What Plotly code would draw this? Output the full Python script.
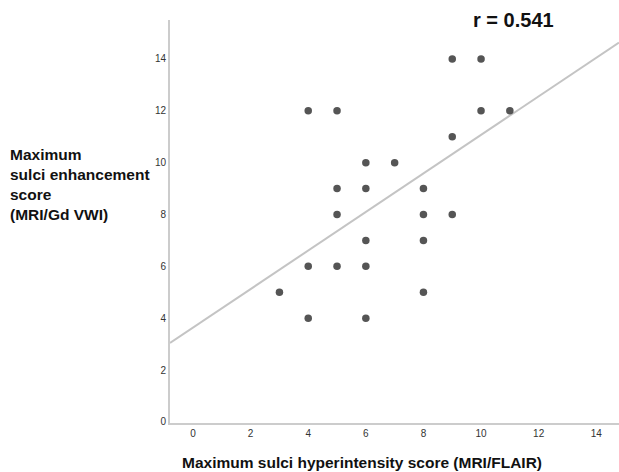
import plotly.graph_objects as go

# Data
flair_score = [9, 10, 4, 5, 10, 11, 9, 6, 7, 5, 6, 8, 5, 8, 9, 6, 8, 4, 5, 6, 3, 8, 4, 6]
vwi_score = [14, 14, 12, 12, 12, 12, 11, 10, 10, 9, 9, 9, 8, 8, 8, 7, 7, 6, 6, 6, 5, 5, 4, 4]
tick_vals = [0, 2, 4, 6, 8, 10, 12, 14]
fit_intercept = 3.64
fit_slope = 0.743
r_text = "r = 0.541"

x_range = [-0.8, 14.79]
y_range = [-0.04, 15.5]

fit_x = x_range
fit_y = [fit_intercept + fit_slope * v for v in fit_x]

fig = go.Figure()
fig.add_trace(go.Scatter(x=fit_x, y=fit_y, mode="lines",
                         line=dict(color="#c4c4c4", width=2), hoverinfo="skip"))
fig.add_trace(go.Scatter(x=flair_score, y=vwi_score, mode="markers",
                         marker=dict(color="#555555", size=7.5, line=dict(width=0))))

axis_common = dict(showgrid=False, zeroline=False, showline=True, linecolor="#cccccc",
                   linewidth=2, ticks="", tickvals=tick_vals,
                   tickfont=dict(family="Liberation Sans, Arial, sans-serif", size=10, color="#333333"))

fig.update_layout(
    width=619, height=472,
    margin=dict(l=170, r=0, t=20, b=49),
    paper_bgcolor="white", plot_bgcolor="white",
    showlegend=False,
    hovermode=False,
    xaxis=dict(range=x_range, **axis_common),
    yaxis=dict(range=y_range, **axis_common),
    font=dict(family="Liberation Sans, Arial, sans-serif", color="#111111"),
    annotations=[
        dict(text="<b>Maximum sulci hyperintensity score (MRI/FLAIR)</b>",
             xref="paper", yref="paper", x=0.4276, y=-0.0968,
             xanchor="center", yanchor="middle", showarrow=False,
             font=dict(size=15.5, color="#111111")),
        dict(text="<b>Maximum<br>sulci enhancement<br>score<br>(MRI/Gd VWI)</b>",
             xref="paper", yref="paper", x=-0.3608, y=0.593,
             xanchor="left", yanchor="middle", align="left", showarrow=False,
             font=dict(size=15.5, color="#111111")),
        dict(text="<b>" + r_text + "</b>",
             xref="paper", yref="paper", x=0.764, y=1.0,
             xanchor="center", yanchor="middle", showarrow=False,
             font=dict(size=20, color="#111111")),
    ],
)

fig.write_html("out.html",
               config={"displayModeBar": False},
               post_script="document.body.style.margin='0';document.body.style.overflow='hidden';")
